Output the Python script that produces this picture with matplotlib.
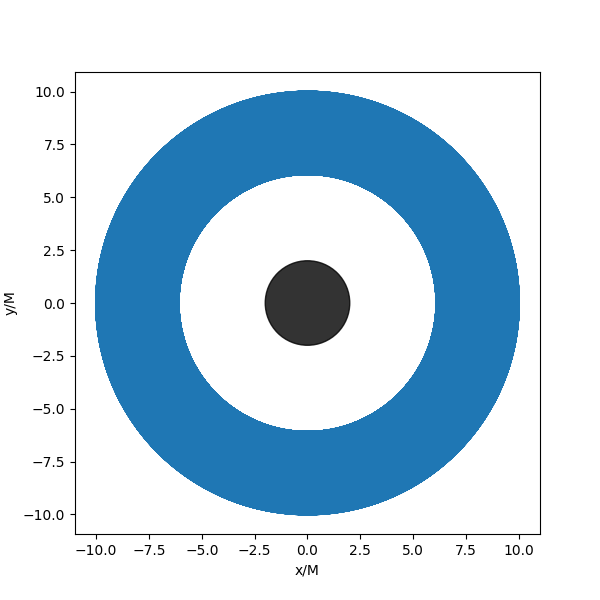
import numpy as np
import matplotlib
matplotlib.use("Agg")
import matplotlib.pyplot as plt

# orbit parameters (geometric units, M = 1)
M = 1.0
r_apo = 10.0
r_peri = 6.1
n_turns = 400
horizon = 2 * M

u1 = 1 / r_apo
u2 = 1 / r_peri
u3 = 1 / (2 * M) - u1 - u2
inv_L2 = u1 * u2 + u1 * u3 + u2 * u3


def rhs(s):
    u, du = s
    return np.array([du, -u + M * inv_L2 + 3 * M * u * u])


# integrate the orbit equation d2u/dphi2 in phi (RK4)
h = 0.01
phi = np.arange(0, 2 * np.pi * n_turns, h)
us = np.empty_like(phi)
s = np.array([u1, 0.0])
for i in range(len(phi)):
    us[i] = s[0]
    k1 = rhs(s)
    k2 = rhs(s + 0.5 * h * k1)
    k3 = rhs(s + 0.5 * h * k2)
    k4 = rhs(s + h * k3)
    s = s + h / 6 * (k1 + 2 * k2 + 2 * k3 + k4)

r = 1 / us
x = r * np.cos(phi)
y = r * np.sin(phi)

fig = plt.figure(figsize=(6, 6), dpi=100)
plt.plot(x, y)
bh = plt.Circle((0, 0), horizon, color="black", alpha=0.8)
plt.gca().add_patch(bh)
plt.axis("equal")
plt.xlabel("x/M")
plt.ylabel("y/M")
plt.savefig("out.png")
